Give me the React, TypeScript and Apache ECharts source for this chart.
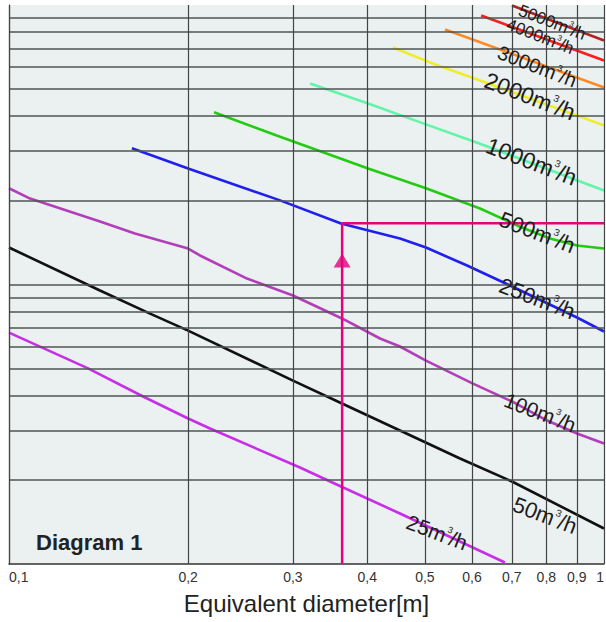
import React, { useEffect, useRef } from "react";
import * as echarts from "echarts";

// Air flow curves: [equivalent diameter (m), pressure loss]
const flows = [25, 50, 100, 250, 500, 1000, 2000, 3000, 4000, 5000];

const curve25 = [[0.1, 0.673], [0.1358, 0.501], [0.168, 0.3975], [0.2, 0.3316], [0.2177, 0.3053], [0.3083, 0.2215], [0.3614, 0.1893], [0.454, 0.1516], [0.6815, 0.1012]];
const curve50 = [[0.1, 1.356], [0.1422, 0.952], [0.1726, 0.787], [0.2, 0.684], [0.3001, 0.453], [0.3628, 0.3752], [0.454, 0.3003], [0.5728, 0.2384], [0.7004, 0.1973], [1.0, 0.134]];
const curve100 = [[0.1, 2.21], [0.1085, 2.03], [0.1422, 1.68], [0.1628, 1.522], [0.2, 1.345], [0.2094, 1.27], [0.2512, 1.05], [0.3001, 0.913], [0.3628, 0.756], [0.4203, 0.641], [0.454, 0.6], [0.5021, 0.534], [0.6022, 0.442], [0.7004, 0.3815], [0.8023, 0.326], [0.9007, 0.293], [1.0, 0.2698]];
const curve250 = [[0.1609, 3.07], [0.2, 2.6], [0.2855, 2.0], [0.3614, 1.653], [0.454, 1.461], [0.5021, 1.356], [0.5886, 1.169], [0.695, 0.992], [0.9007, 0.762], [1.0, 0.679]];
const curve500 = [[0.2211, 4.13], [0.2855, 3.38], [0.4013, 2.6], [0.5021, 2.21], [0.6189, 1.87], [0.7226, 1.61], [0.8113, 1.461], [0.9007, 1.379], [1.0, 1.345]];
const curve1000 = [[0.3206, 5.24], [0.4013, 4.44], [0.5021, 3.74], [0.6189, 3.19], [1.0, 2.17]];
const curve2000 = [[0.4418, 7.05], [0.516, 6.17], [0.6189, 5.37], [1.0, 3.71]];
const curve3000 = [[0.5405, 8.17], [1.0, 5.07]];
const curve4000 = [[0.6216, 9.17], [1.0, 6.33]];
const curve5000 = [[0.7004, 9.96], [1.0, 7.46]];

const curves = [curve25, curve50, curve100, curve250, curve500, curve1000, curve2000, curve3000, curve4000, curve5000];

// where each flow label sits on its curve
const labelPoints = [[0.524, 0.1297], [0.796, 0.1491], [0.781, 0.3484], [0.772, 0.891], [0.772, 1.535], [0.755, 2.754], [0.751, 4.71], [0.772, 6.03], [0.781, 7.71], [0.818, 8.66]];

// axis ticks
const diameterTicks = [0.1, 0.2, 0.3, 0.4, 0.5, 0.6, 0.7, 0.8, 0.9, 1];
const diameterTickLabels = ["0,1", "0,2", "0,3", "0,4", "0,5", "0,6", "0,7", "0,8", "0,9", "1"];
const lossGridValues = [0.2, 0.3, 0.4, 0.5, 0.6, 0.7, 0.8, 0.9, 1, 2, 3, 4, 5, 6, 7, 8, 9];

// worked example: read-off at 250 m³/h
const selectedDiameter = 0.363;
const selectedLoss = 1.655;
const arrowLoss = 1.219;

const curveColors = ["#c82ee8", "#111111", "#b23fb8", "#1f1ff0", "#22cc11", "#62f5aa", "#eeee22", "#ff8a22", "#ff1c1c", "#b42222"];
const labelSizes = [21, 22, 21, 22, 22, 23, 23, 20, 17, 17];
const FONT = "'Liberation Sans', Arial, Helvetica, sans-serif";
const PINK = "#e5007d";

export default function App() {
  const ref = useRef<HTMLDivElement>(null);

  useEffect(() => {
    if (!ref.current) return;
    const chart = echarts.init(ref.current, undefined, { renderer: "svg" });

    const curveSeries = curves.map((data, i) => {
      const size = labelSizes[i];
      return {
        type: "line",
        name: `${flows[i]} m³/h`,
        data,
        showSymbol: false,
        smooth: false,
        z: 4,
        lineStyle: { color: curveColors[i], width: 2.6 },
        emphasis: { disabled: true },
        markPoint: {
          silent: true,
          symbol: "circle",
          symbolSize: 1,
          itemStyle: { color: "rgba(0,0,0,0)" },
          z: 6,
          data: [{ coord: labelPoints[i] }],
          label: {
            show: true,
            position: "inside",
            rotate: -21,
            formatter: `{a|${flows[i]}m}{s|3}{a|/h}`,
            rich: {
              a: { fontFamily: FONT, fontSize: size, color: "#1c1c1c", lineHeight: size + 2 },
              s: { fontFamily: FONT, fontSize: Math.round(size * 0.45), color: "#1c1c1c", verticalAlign: "top", lineHeight: size + 2 },
            },
          },
        },
      };
    });

    const option = {
      animation: false,
      backgroundColor: "#ffffff",
      grid: {
        left: 9,
        right: 2,
        top: 5,
        bottom: 58,
        show: true,
        backgroundColor: "#ebf0f1",
        borderWidth: 0,
      },
      xAxis: {
        type: "log",
        logBase: 10,
        min: 0.1,
        max: 1,
        axisLine: { show: true, lineStyle: { color: "#333", width: 1.5 } },
        axisTick: { show: false },
        axisLabel: { show: false },
        splitLine: { show: false },
        name: "Equivalent diameter[m]",
        nameLocation: "middle",
        nameGap: 27,
        nameTextStyle: { fontFamily: FONT, fontSize: 24, color: "#222" },
      },
      yAxis: {
        type: "log",
        logBase: 10,
        min: 0.1,
        max: 10,
        axisLine: { show: true, lineStyle: { color: "#444", width: 1.2 } },
        axisTick: { show: false },
        axisLabel: { show: false },
        splitLine: { show: false },
      },
      graphic: [
        {
          type: "text",
          left: 36,
          top: 531,
          style: { text: "Diagram 1", fontFamily: FONT, fontSize: 22, fontWeight: "bold", fill: "#222" },
        },
      ],
      series: [
        {
          type: "line",
          data: [],
          z: 1,
          silent: true,
          markLine: {
            silent: true,
            symbol: ["none", "none"],
            animation: false,
            data: [
              ...lossGridValues.map((v) => ({
                yAxis: v,
                label: { show: false },
                lineStyle: { color: "#4f5455", width: 1.6, type: "solid" },
              })),
              ...diameterTicks.map((v, i) => ({
                xAxis: v,
                lineStyle: { color: "#444", width: 1.2, type: "solid" },
                label: {
                  show: true,
                  position: "start",
                  distance: 6,
                  formatter: diameterTickLabels[i],
                  fontFamily: FONT,
                  fontSize: 14,
                  color: "#333",
                  align: i === 0 ? "left" : i === diameterTicks.length - 1 ? "right" : "center",
                },
              })),
            ],
          },
        },
        ...curveSeries,
        {
          type: "line",
          name: "selection",
          data: [[selectedDiameter, 0.1], [selectedDiameter, selectedLoss], [1, selectedLoss]],
          showSymbol: false,
          z: 5,
          lineStyle: { color: PINK, width: 2.5 },
          emphasis: { disabled: true },
        },
        {
          type: "scatter",
          name: "arrow",
          data: [[selectedDiameter, arrowLoss]],
          symbol: "triangle",
          symbolSize: [17, 14],
          z: 6,
          itemStyle: { color: PINK },
          emphasis: { disabled: true },
        },
      ],
    };

    chart.setOption(option as any);
    return () => chart.dispose();
  }, []);

  return <div ref={ref} style={{ position: "fixed", left: 0, top: 0, width: 606, height: 622 }} />;
}
